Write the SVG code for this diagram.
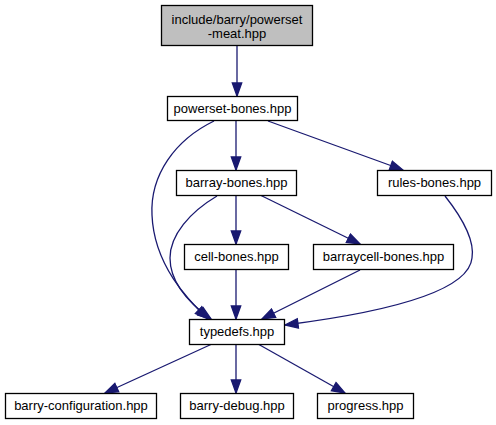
<svg xmlns="http://www.w3.org/2000/svg" width="496" height="425" viewBox="0 0 496 425">
<style>
.node rect{fill:#ffffff;stroke:#000000;stroke-width:1.3}
.node rect.root{fill:#bfbfbf}
.node text{font-family:"Liberation Sans",Arial,sans-serif;font-size:13px;fill:#000000;text-anchor:middle}
.edge{fill:none;stroke:#191970;stroke-width:1.3;marker-end:url(#arr)}
</style>
<defs>
<marker id="arr" markerUnits="userSpaceOnUse" markerWidth="16" markerHeight="12" viewBox="-1 -6 16 12" refX="13" refY="0" orient="auto">
<path d="M0,-4.7 L13,0 L0,4.7 Z" fill="#191970" stroke="#191970" stroke-width="1.3"/>
</marker>
</defs>
<rect width="496" height="425" fill="#ffffff"/>
<g id="edges">
<path class="edge" d="M237,46 L237,96"/>
<path class="edge" d="M236,120 L236,170"/>
<path class="edge" d="M268,121 L403,170"/>
<path class="edge" d="M214,121 C175,140 150,175 152,215 C154,265 188,300 208,319"/>
<path class="edge" d="M217,196 C190,212 170,235 170,258 C170,285 193,306 211,319"/>
<path class="edge" d="M236,195 L236,244"/>
<path class="edge" d="M260,195 L360,244"/>
<path class="edge" d="M445,196 C460,215 475,240 472,258 C468,300 340,318 285,325"/>
<path class="edge" d="M236,269 L236,319"/>
<path class="edge" d="M360,270 L262,319"/>
<path class="edge" d="M212,344 L105,393"/>
<path class="edge" d="M236,344 L236,393"/>
<path class="edge" d="M258,344 L345,393"/>
</g>
<g id="n_meat" class="node"><rect class="root" x="161.5" y="5.5" width="151" height="40"/><text x="237" y="23.5">include/barry/powerset</text><text x="237" y="37.5">-meat.hpp</text></g>
<g id="n_pset" class="node"><rect x="167.5" y="96.5" width="130" height="24"/><text x="232.5" y="113">powerset-bones.hpp</text></g>
<g id="n_barray" class="node"><rect x="176.5" y="170.5" width="120" height="25"/><text x="236.5" y="187">barray-bones.hpp</text></g>
<g id="n_rules" class="node"><rect x="377.5" y="170.5" width="114" height="25"/><text x="434.5" y="187">rules-bones.hpp</text></g>
<g id="n_cell" class="node"><rect x="184.5" y="244.5" width="104" height="25"/><text x="236.5" y="261">cell-bones.hpp</text></g>
<g id="n_barraycell" class="node"><rect x="313.5" y="244.5" width="140" height="25"/><text x="383.5" y="261">barraycell-bones.hpp</text></g>
<g id="n_typedefs" class="node"><rect x="189.5" y="319.5" width="95" height="25"/><text x="237" y="336">typedefs.hpp</text></g>
<g id="n_config" class="node"><rect x="5.5" y="393.5" width="151" height="25"/><text x="81" y="410">barry-configuration.hpp</text></g>
<g id="n_debug" class="node"><rect x="180.5" y="393.5" width="113" height="25"/><text x="237" y="410">barry-debug.hpp</text></g>
<g id="n_progress" class="node"><rect x="317.5" y="393.5" width="96" height="25"/><text x="365.5" y="410">progress.hpp</text></g>
</svg>
